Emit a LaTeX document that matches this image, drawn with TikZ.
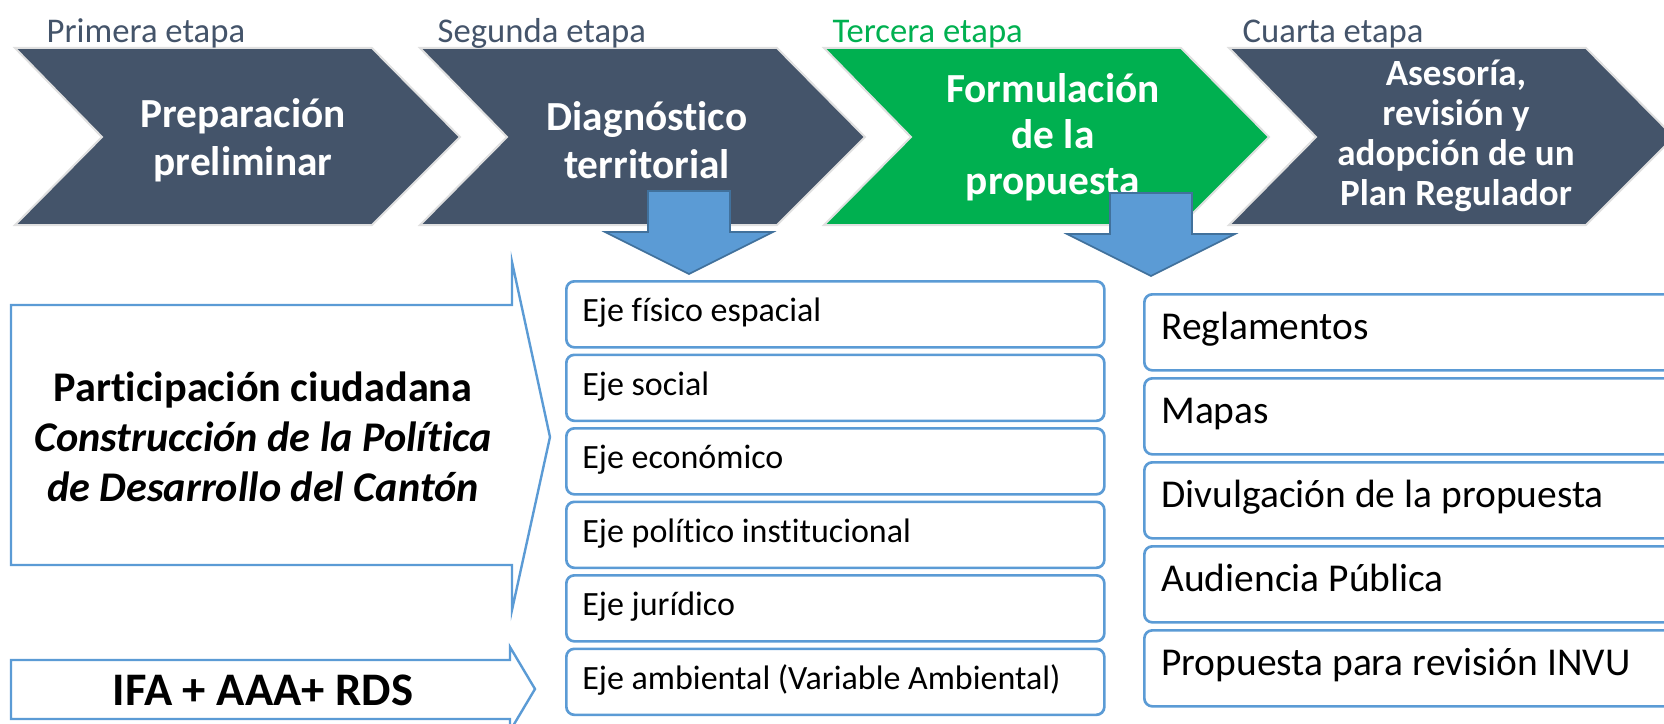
\documentclass[tikz,border=0pt]{standalone}
\usepackage{fontspec}
\setmainfont[Ligatures={NoCommon}]{Carlito}
\definecolor{pizarra}{HTML}{44546A}
\definecolor{verde}{HTML}{00B050}
\definecolor{azul}{HTML}{5B9BD5}
\definecolor{azuloscuro}{HTML}{41719C}
\begin{document}
\begin{tikzpicture}
[x=0.75pt,y=-0.75pt,
  etapadecorate/.style={draw=black!12,line width=1.5pt},%
  etapatext/.style={text=white,align=center,font=\bfseries\fontsize{31}{36}\selectfont},%
  labeldecorate/.style={anchor=base west,font=\fontsize{26}{30}\selectfont},%
  flechadecorate/.style={fill=azul,draw=azuloscuro,line width=1.2pt},%
  ladodecorate/.style={draw=azul,line width=1.8pt,fill=white},%
  ejedecorate/.style={draw=azul,line width=2pt,rounded corners=6pt,anchor=north west,
    minimum width=403.5pt,minimum height=49.5pt,inner xsep=12pt,text width=379.5pt,
    align=flush left,text height=1.3em,text depth=0.2em,font=\fontsize{25.5}{30}\selectfont},%
  pasodecorate/.style={draw=azul,line width=2pt,rounded corners=6pt,anchor=north west,
    minimum width=420pt,minimum height=57pt,inner xsep=12.75pt,text width=394.5pt,
    align=flush left,text height=1.3em,text depth=0.24em,font=\fontsize{29.6}{34}\selectfont}]
\path[use as bounding box] (0,0) rectangle (1664,724);
\clip (0,0) rectangle (1664,724);
%% stages
\foreach \n/\x/\col/\lx/\lab in {1/15/pizarra/42/Primera etapa,
  2/420/pizarra/433/Segunda etapa, 3/824/verde/828/Tercera etapa,
  4/1229/pizarra/1238/Cuarta etapa} {
  \draw[etapadecorate,fill=\col] (\x,48) -- ++(357,0) -- ++(88,89) -- ++(-88,88)
    -- ++(-357,0) -- ++(87,-88) -- cycle;
  \node[labeldecorate,text=\col] (etiqueta\n) at (\lx,43) {\lab};
}
\node[etapatext] (prep) at (243,140) {Preparación\\preliminar};
\node[etapatext] (diag) at (647,140) {Diagnóstico\\territorial};
\node[etapatext,font=\bfseries\fontsize{31}{34.5}\selectfont] (form) at (1053,137)
  {Formulación\\de la\\propuesta};
\node[etapatext,font=\bfseries\fontsize{27.75}{30}\selectfont] (ases) at (1456,136)
  {Asesoría,\\revisión y\\adopción de un\\Plan Regulador};
%% block arrows down
\foreach \cx/\ty in {689/191, 1151/193} {
  \draw[flechadecorate] (\cx-41,\ty) -- (\cx+41,\ty) -- (\cx+41,\ty+41) -- (\cx+84,\ty+41)
    -- (\cx,\ty+83) -- (\cx-84,\ty+41) -- (\cx-41,\ty+41) -- cycle;
}
%% arrows on the left
\draw[ladodecorate] (11,305) -- (512,305) -- (512,262) -- (550,437) -- (512,610)
  -- (512,565) -- (11,565) -- cycle;
\node[align=center,font=\bfseries\fontsize{31.7}{37.5}\selectfont] (part) at (263,437)
  {Participación ciudadana\\\textit{Construcción de la Política}\\\textit{de Desarrollo del Cantón}};
\draw[ladodecorate] (11,660) -- (510,660) -- (510,647) -- (535,689) -- (510,731)
  -- (510,719) -- (11,719) -- cycle;
\node[font=\bfseries\fontsize{35}{40}\selectfont] (ifa) at (263,690) {IFA + AAA+ RDS};
%% axes of the diagnosis
\foreach \i/\name/\txt in {0/fis/Eje físico espacial, 1/soc/Eje social,
  2/eco/Eje económico, 3/pol/Eje político institucional, 4/jur/Eje jurídico,
  5/amb/Eje ambiental (Variable Ambiental)} {
  \node[ejedecorate] (eje\name) at (565,{280+73.5*\i}) {\txt};
}
%% products of the proposal
\foreach \i/\name/\txt in {0/reg/Reglamentos, 1/map/Mapas,
  2/div/Divulgación de la propuesta, 3/aud/Audiencia Pública,
  4/inv/Propuesta para revisión INVU} {
  \node[pasodecorate] (paso\name) at (1143,{293+84*\i}) {\txt};
}
\end{tikzpicture}
\end{document}
